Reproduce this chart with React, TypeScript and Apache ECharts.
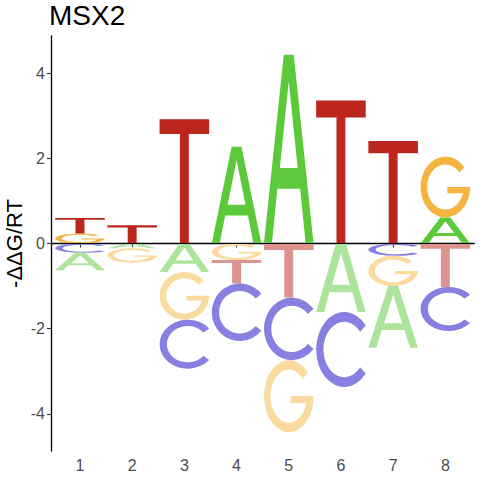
import React, { useEffect, useRef } from "react";
import * as echarts from "echarts";

// ---- data ----
const POSITIONS = [1, 2, 3, 4, 5, 6, 7, 8];
const LETTERS = ["A", "C", "G", "T"];
const A_VALUES = [-0.41, -0.11, -0.67, 2.27, 4.43, -1.61, -1.45, 0.61];
const C_VALUES = [-0.22, 0, -1.15, -1.35, -1.47, -1.76, -0.29, -1.035];
const G_VALUES = [0.235, -0.34, -1.12, -0.39, -1.69, 0, -0.71, 1.43];
const T_VALUES = [0.365, 0.43, 2.92, -0.55, -1.27, 3.36, 2.41, -1.02];
const Y_TICKS = [-4, -2, 0, 2, 4];
const X_TICKS = POSITIONS;
const TITLE = "MSX2";
const Y_NAME = "-ΔΔG/RT";

// ---- styling ----
const POS_COLORS: Record<string, string> = {
  A: "#5BC93A",
  C: "#1100C1",
  G: "#F5B43F",
  T: "#BB271C",
};
const NEG_COLORS: Record<string, string> = {
  A: "#ADE49C",
  C: "#8880E0",
  G: "#FADA9F",
  T: "#DD938E",
};
const GLYPHS: Record<string, string> = {
  T: "M0,0 L100,0 L100,12 L59,12 L59,100 L41,100 L41,12 L0,12 Z",
  A: "M0,100 L40,0 L60,0 L100,100 L84,100 L73,71 L27,71 L16,100 Z M50,14 L32,60 L68,60 Z",
  C: "M88.3,17.9 A50,50 0 1 0 88.3,82.1 L78.3,73.8 A37,37 0 1 1 78.3,26.2 Z",
  G: "M88.3,17.9 A50,50 0 1 0 100,50 L54,50 L54,60 L85.6,60 A37,37 0 1 1 78.3,26.2 Z",
};
const LETTER_WIDTH = 0.95;
const X_MIN = 0.445;
const X_MAX = 8.555;
const Y_MIN = -4.873;
const Y_MAX = 4.873;

function buildStacks() {
  const valuesByLetter: Record<string, number[]> = {
    A: A_VALUES,
    C: C_VALUES,
    G: G_VALUES,
    T: T_VALUES,
  };
  const items: any[] = [];
  POSITIONS.forEach((pos, i) => {
    const entries = LETTERS.map((l, li) => ({ l, li, v: valuesByLetter[l][i] })).filter(
      (e) => Math.abs(e.v) > 0.005
    );
    const posE = entries.filter((e) => e.v > 0).sort((a, b) => a.v - b.v);
    const negE = entries.filter((e) => e.v < 0).sort((a, b) => b.v - a.v);
    let acc = 0;
    posE.forEach((e) => {
      items.push([pos, acc, acc + e.v, e.li, 0]);
      acc += e.v;
    });
    acc = 0;
    negE.forEach((e) => {
      items.push([pos, acc, acc + e.v, e.li, 1]);
      acc += e.v;
    });
  });
  return items;
}

export default function App() {
  const ref = useRef<HTMLDivElement>(null);
  useEffect(() => {
    if (!ref.current) return;
    const chart = echarts.init(ref.current, null, { renderer: "svg" });
    const data = buildStacks();
    const option: any = {
      animation: false,
      backgroundColor: "#ffffff",
      title: {
        text: TITLE,
        left: 49,
        top: 1,
        padding: 0,
        textStyle: {
          fontFamily: "Liberation Sans",
          fontSize: 28,
          fontWeight: "normal",
          color: "#000000",
        },
      },
      grid: {
        left: 51,
        right: 5.7,
        top: 36,
        bottom: 29,
        containLabel: false,
        outerBoundsMode: "none",
      },
      xAxis: {
        type: "value",
        min: X_MIN,
        max: X_MAX,
        axisLine: { show: true, lineStyle: { color: "#000000", width: 1.3 } },
        axisTick: {
          show: true,
          length: 4,
          customValues: X_TICKS,
          lineStyle: { color: "#333333", width: 1.1 },
        },
        axisLabel: {
          customValues: X_TICKS,
          color: "#4D4D4D",
          fontFamily: "Liberation Sans",
          fontSize: 16,
          margin: 6,
        },
        splitLine: { show: false },
      },
      yAxis: {
        type: "value",
        min: Y_MIN,
        max: Y_MAX,
        name: Y_NAME,
        nameLocation: "middle",
        nameRotate: 90,
        nameGap: 26,
        nameMoveOverlap: false,
        nameTextStyle: {
          fontFamily: "Liberation Sans",
          fontSize: 22,
          color: "#000000",
        },
        axisLine: { show: true, lineStyle: { color: "#000000", width: 1.3 } },
        axisTick: {
          show: true,
          length: 4,
          customValues: Y_TICKS,
          lineStyle: { color: "#333333", width: 1.1 },
        },
        axisLabel: {
          customValues: Y_TICKS,
          color: "#4D4D4D",
          fontFamily: "Liberation Sans",
          fontSize: 16,
          margin: 6,
        },
        splitLine: { show: false },
      },
      series: [
        {
          type: "custom",
          data,
          encode: { x: 0, y: [1, 2] },
          renderItem: (params: any, api: any) => {
            const x = api.value(0);
            const y0 = api.value(1);
            const y1 = api.value(2);
            const letter = LETTERS[api.value(3)];
            const neg = api.value(4) === 1;
            const tl = api.coord([x - LETTER_WIDTH / 2, Math.max(y0, y1)]);
            const br = api.coord([x + LETTER_WIDTH / 2, Math.min(y0, y1)]);
            return {
              type: "path",
              shape: {
                pathData: GLYPHS[letter],
                x: tl[0],
                y: tl[1],
                width: br[0] - tl[0],
                height: br[1] - tl[1],
                layout: "cover",
              },
              style: { fill: neg ? NEG_COLORS[letter] : POS_COLORS[letter] },
            };
          },
          markLine: {
            silent: true,
            symbol: "none",
            label: { show: false },
            lineStyle: { color: "#000000", width: 1, type: "solid" },
            data: [{ yAxis: 0 }],
          },
        },
      ],
    };
    chart.setOption(option);
    return () => chart.dispose();
  }, []);
  return (
    <div
      ref={ref}
      style={{ position: "absolute", left: 0, top: 0, width: 480, height: 480 }}
    />
  );
}
